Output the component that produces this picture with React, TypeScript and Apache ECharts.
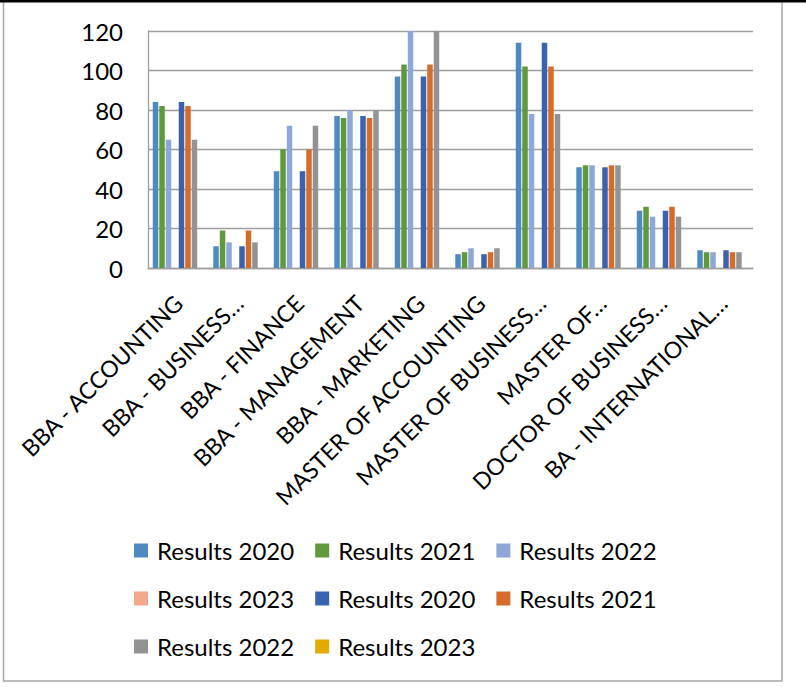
import React, { useEffect, useRef } from "react";
import * as echarts from "echarts";

const categories = [
  "BBA - ACCOUNTING",
  "BBA - BUSINESS…",
  "BBA - FINANCE",
  "BBA - MANAGEMENT",
  "BBA - MARKETING",
  "MASTER OF ACCOUNTING",
  "MASTER OF BUSINESS…",
  "MASTER OF…",
  "DOCTOR OF BUSINESS…",
  "BA - INTERNATIONAL…",
];

const results2020 = [84, 11, 49, 77, 97, 7, 114, 51, 29, 9];
const results2021 = [82, 19, 60, 76, 103, 8, 102, 52, 31, 8];
const results2022 = [65, 13, 72, 80, 120, 10, 78, 52, 26, 8];
const results2023: (number | null)[] = [null, null, null, null, null, null, null, null, null, null];
const results2020b = [84, 11, 49, 77, 97, 7, 114, 51, 29, 9];
const results2021b = [82, 19, 60, 76, 103, 8, 102, 52, 31, 8];
const results2022b = [65, 13, 72, 80, 120, 10, 78, 52, 26, 8];
const results2023b: (number | null)[] = [null, null, null, null, null, null, null, null, null, null];

const seriesNames = [
  "Results 2020",
  "Results 2021",
  "Results 2022",
  "Results 2023",
  "Results 2020#2",
  "Results 2021#2",
  "Results 2022#2",
  "Results 2023#2",
];
const seriesData = [
  results2020,
  results2021,
  results2022,
  results2023,
  results2020b,
  results2021b,
  results2022b,
  results2023b,
];
const seriesColors = [
  "#4E8AC1",
  "#5F993C",
  "#8FA6D8",
  "#F2A98C",
  "#3B62AE",
  "#D56C2A",
  "#939393",
  "#E3AA00",
];

const yTicks = { min: 0, max: 120, interval: 20 };

const FONT = "Lato, 'Open Sans', sans-serif";

export default function App() {
  const ref = useRef<HTMLDivElement>(null);

  useEffect(() => {
    document.body.style.margin = "0";
    if (!ref.current) return;
    const chart = echarts.init(ref.current, undefined, { renderer: "svg" });
    const option: any = {
      animation: false,
      backgroundColor: "#ffffff",
      textStyle: { fontFamily: FONT },
      grid: { left: 148, top: 31, width: 605, height: 237 },
      xAxis: {
        type: "category",
        data: categories,
        axisLine: { show: true, lineStyle: { color: "#9e9e9e", width: 1.3 } },
        axisTick: { show: false },
        axisLabel: {
          rotate: 45,
          interval: 0,
          margin: 31,
          fontSize: 23,
          color: "#000",
          fontFamily: FONT,
        },
      },
      yAxis: {
        type: "value",
        min: yTicks.min,
        max: yTicks.max,
        interval: yTicks.interval,
        axisLine: { show: true, lineStyle: { color: "#9e9e9e", width: 1.3 } },
        axisTick: { show: false },
        splitLine: { show: true, lineStyle: { color: "#9e9e9e", width: 1.3 } },
        axisLabel: { fontSize: 24, color: "#000", margin: 25, fontFamily: FONT },
      },
      legend: {
        left: 134,
        top: 537,
        width: 560,
        padding: 0,
        itemWidth: 14,
        itemHeight: 14,
        itemGap: 21,
        icon: "rect",
        formatter: (name: string) => name.split("#")[0],
        textStyle: {
          fontSize: 24,
          color: "#000",
          fontFamily: FONT,
          lineHeight: 27,
          width: 135,
          padding: [0, 0, 0, 4],
        },
        data: seriesNames,
      },
      series: seriesNames.map((name, i) => ({
        name,
        type: "bar",
        data: seriesData[i],
        barWidth: 5.5,
        barGap: "18%",
        itemStyle: { color: seriesColors[i] },
      })),
      graphic: [
        {
          type: "rect",
          shape: { x: 3.5, y: 0.5, width: 778.5, height: 680.5 },
          style: { fill: "none", stroke: "#a6a6a6", lineWidth: 1.5 },
          silent: true,
        },
        {
          type: "line",
          shape: { x1: 0, y1: 1.2, x2: 806, y2: 1.2 },
          style: { stroke: "#000", lineWidth: 2.5 },
          silent: true,
        },
      ],
    };
    chart.setOption(option);
    return () => chart.dispose();
  }, []);

  return (
    <div
      ref={ref}
      style={{ position: "fixed", left: 0, top: 0, width: 806, height: 687 }}
    />
  );
}
